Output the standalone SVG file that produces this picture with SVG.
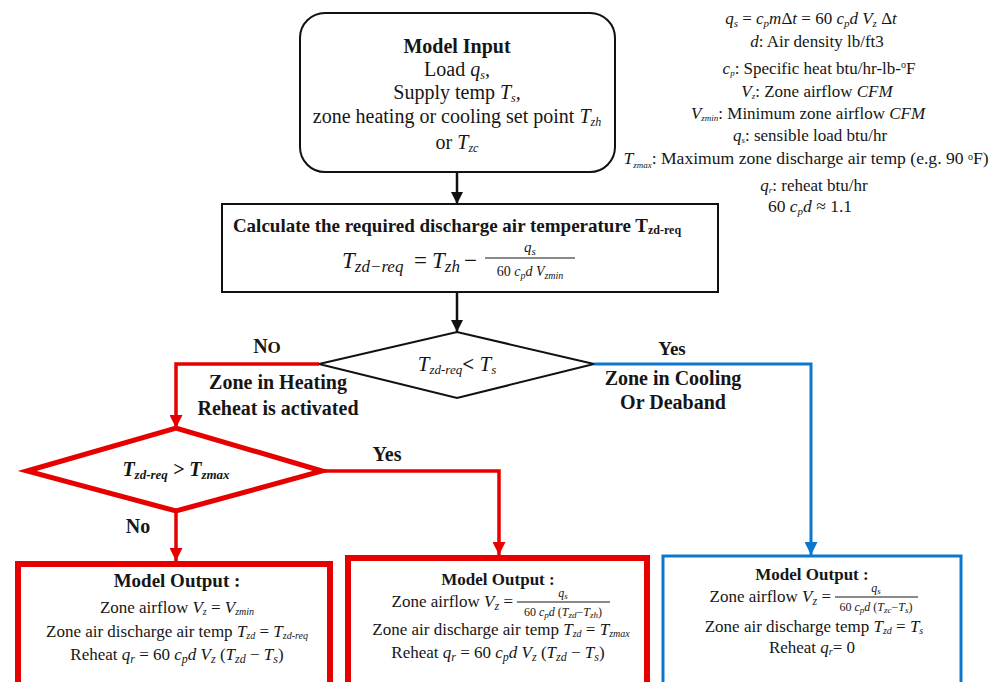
<svg xmlns="http://www.w3.org/2000/svg" width="997" height="682" viewBox="0 0 997 682">
<style>
text{font-family:"Liberation Serif","Times New Roman",serif;fill:#161616}
.b{font-weight:bold}
.i{font-style:italic}
.blk{stroke:#111;stroke-width:2;fill:#fff}
.red{stroke:#e60000;fill:#fff}
.blu{stroke:#0a78cf;fill:#fff}
.c{text-anchor:middle}
.e{text-anchor:end}
.lk{stroke:#111;stroke-width:2.5;fill:none}
.lr{stroke:#e60000;stroke-width:3.5;fill:none}
.lb{stroke:#0a78cf;stroke-width:3;fill:none}
.fr{stroke:#161616;stroke-width:1.1}
</style>
<defs>
<marker id="ak" markerUnits="userSpaceOnUse" markerWidth="12" markerHeight="12" viewBox="0 0 12 12" refX="12" refY="6" orient="auto"><path d="M0,0L12,6L0,12z" fill="#111"/></marker>
<marker id="ar" markerUnits="userSpaceOnUse" markerWidth="13" markerHeight="13" viewBox="0 0 12 12" refX="12" refY="6" orient="auto"><path d="M0,0L12,6L0,12z" fill="#e60000"/></marker>
<marker id="ab" markerUnits="userSpaceOnUse" markerWidth="13" markerHeight="13" viewBox="0 0 12 12" refX="12" refY="6" orient="auto"><path d="M0,0L12,6L0,12z" fill="#0a78cf"/></marker>
</defs>

<g id="connectors">
<path class="lk" d="M457,172V204" marker-end="url(#ak)"/>
<path class="lk" d="M457,292V332" marker-end="url(#ak)"/>
<path class="lr" d="M319,364H176V428" marker-end="url(#ar)"/>
<path class="lr" d="M322,471H499V555" marker-end="url(#ar)"/>
<path class="lr" d="M176,511V561" marker-end="url(#ar)"/>
<path class="lb" d="M594,364H811V555" marker-end="url(#ab)"/>
</g>

<g id="labels">
<text class="b c" x="267" y="353" font-size="20">N<tspan font-size="17">O</tspan></text>
<text class="b c" x="278" y="389" font-size="20">Zone in Heating</text>
<text class="b c" x="278" y="415" font-size="20">Reheat is activated</text>
<text class="b c" x="672" y="355" font-size="19">Yes</text>
<text class="b c" x="673" y="385" font-size="20">Zone in Cooling</text>
<text class="b c" x="673" y="409" font-size="20">Or Deaband</text>
<text class="b c" x="387" y="461" font-size="20">Yes</text>
<text class="b c" x="138" y="533" font-size="20">No</text>
</g>

<g id="model-input">
<rect class="blk" x="300" y="13" width="315" height="159" rx="25"/>
<text class="b c" x="457" y="53" font-size="20">Model Input</text>
<text class="c" x="457" y="76" font-size="20">Load <tspan class="i">q</tspan><tspan class="i" font-size="12" dy="3">s</tspan><tspan class="i" dy="-3">,</tspan></text>
<text class="c" x="457" y="99" font-size="20">Supply temp <tspan class="i">T</tspan><tspan class="i" font-size="12" dy="3">s</tspan><tspan class="i" dy="-3">,</tspan></text>
<text class="c" x="457" y="123" font-size="20">zone heating or cooling set point <tspan class="i">T</tspan><tspan class="i" font-size="12" dy="3">zh</tspan></text>
<text class="c" x="457" y="149" font-size="20">or <tspan class="i">T</tspan><tspan class="i" font-size="12" dy="3">zc</tspan></text>
</g>

<g id="calc">
<rect class="blk" x="222" y="204" width="496" height="88"/>
<text class="b c" x="457" y="232" font-size="19">Calculate the required discharge air temperature T<tspan font-size="12" dy="2">zd-req</tspan></text>
<text class="i" x="342" y="268" font-size="23">T<tspan font-size="17" dy="4">zd−req</tspan></text>
<text x="414" y="268" font-size="23">=</text>
<text class="i" x="432" y="268" font-size="23">T<tspan font-size="17" dy="4">zh</tspan></text>
<text x="464" y="268" font-size="23">−</text>
<line class="fr" x1="485" y1="258" x2="575" y2="258"/>
<text class="c i" x="530" y="252" font-size="15">q<tspan font-size="11" dy="3">s</tspan></text>
<text class="c" x="530" y="276" font-size="14">60 <tspan class="i">c</tspan><tspan class="i" font-size="10" dy="3">p</tspan><tspan class="i" dy="-3">d V</tspan><tspan class="i" font-size="10" dy="3">zmin</tspan></text>
</g>

<g id="decision-1">
<polygon class="blk" points="319,364 457,332 594,364 457,398"/>
<text class="c" x="457" y="371" font-size="21"><tspan class="i">T</tspan><tspan class="i" font-size="13" dy="3">zd-req</tspan><tspan class="b" dy="-3">&lt;</tspan> <tspan class="i">T</tspan><tspan class="i" font-size="13" dy="3">s</tspan></text>
</g>

<g id="decision-2">
<polygon class="red" stroke-width="5" points="27,471 176,428 322,471 176,511"/>
<text class="c b i" x="176" y="476" font-size="20">T<tspan font-size="13" dy="3">zd-req</tspan><tspan dy="-3"> &gt; </tspan>T<tspan font-size="13" dy="3">zmax</tspan></text>
</g>

<g id="notes">
<text class="c" x="811" y="24" font-size="17"><tspan class="i">q</tspan><tspan class="i" font-size="11" dy="3">s</tspan><tspan dy="-3"> = </tspan><tspan class="i">c</tspan><tspan class="i" font-size="11" dy="3">p</tspan><tspan class="i" dy="-3">m</tspan>Δ<tspan class="i">t</tspan> = 60 <tspan class="i">c</tspan><tspan class="i" font-size="11" dy="3">p</tspan><tspan class="i" dy="-3">d V</tspan><tspan class="i" font-size="11" dy="3">z</tspan><tspan dy="-3"> Δ</tspan><tspan class="i">t</tspan></text>
<text class="c" x="817" y="47" font-size="17"><tspan class="i">d</tspan>: Air density lb/ft3</text>
<text class="c" x="819" y="74" font-size="17"><tspan class="i">c</tspan><tspan class="i" font-size="9" dy="2">p</tspan><tspan dy="-2">: Specific heat btu/hr-lb-</tspan><tspan font-size="10" dy="-6">o</tspan><tspan dy="6">F</tspan></text>
<text class="c" x="817" y="97" font-size="17"><tspan class="i">V</tspan><tspan class="i" font-size="9" dy="2">z</tspan><tspan dy="-2">:  Zone airflow </tspan><tspan class="i">CFM</tspan></text>
<text class="c" x="808" y="119" font-size="17"><tspan class="i">V</tspan><tspan class="i" font-size="9" dy="2">zmin</tspan><tspan dy="-2">: Minimum zone airflow </tspan><tspan class="i">CFM</tspan></text>
<text class="c" x="810" y="141" font-size="17"><tspan class="i">q</tspan><tspan class="i" font-size="9" dy="2">s</tspan><tspan dy="-2">: sensible load btu/hr</tspan></text>
<text class="c" x="806" y="164" font-size="17.6"><tspan class="i">T</tspan><tspan class="i" font-size="9" dy="4">zmax</tspan><tspan dy="-4">: Maximum zone discharge air temp (e.g. 90 </tspan><tspan font-size="10" dy="-4">o</tspan><tspan dy="4">F)</tspan></text>
<text class="c" x="814" y="191" font-size="17"><tspan class="i">q</tspan><tspan class="i" font-size="9" dy="2">r</tspan><tspan dy="-2">: reheat btu/hr</tspan></text>
<text class="c" x="810" y="212" font-size="17.5">60 <tspan class="i">c</tspan><tspan class="i" font-size="11" dy="3">p</tspan><tspan class="i" dy="-3">d</tspan> ≈ 1.1</text>
</g>

<g id="output-1">
<rect class="red" stroke-width="6" x="18" y="564" width="312" height="140"/>
<text class="b c" x="177" y="587" font-size="19">Model Output :</text>
<text class="c" x="177" y="613" font-size="17">Zone airflow <tspan class="i">V</tspan><tspan class="i" font-size="10" dy="2">z</tspan><tspan dy="-2"> = </tspan><tspan class="i">V</tspan><tspan class="i" font-size="10" dy="2">zmin</tspan></text>
<text class="c" x="177" y="637" font-size="17">Zone air discharge air temp <tspan class="i">T</tspan><tspan class="i" font-size="10" dy="2">zd</tspan><tspan dy="-2"> = </tspan><tspan class="i">T</tspan><tspan class="i" font-size="10" dy="2">zd-req</tspan></text>
<text class="c" x="177" y="660" font-size="17">Reheat <tspan class="i">q</tspan><tspan class="i" font-size="12" dy="3">r</tspan><tspan dy="-3"> = 60 </tspan><tspan class="i">c</tspan><tspan class="i" font-size="12" dy="3">p</tspan><tspan class="i" dy="-3">d V</tspan><tspan class="i" font-size="12" dy="3">z</tspan><tspan dy="-3"> (</tspan><tspan class="i">T</tspan><tspan class="i" font-size="12" dy="3">zd</tspan><tspan dy="-3"> − </tspan><tspan class="i">T</tspan><tspan class="i" font-size="12" dy="3">s</tspan><tspan dy="-3">)</tspan></text>
</g>

<g id="output-2">
<rect class="red" stroke-width="6" x="348" y="558" width="299" height="140"/>
<text class="b c" x="498" y="585" font-size="17">Model Output :</text>
<text class="e" x="513" y="607" font-size="17">Zone airflow <tspan class="i">V</tspan><tspan class="i" font-size="12" dy="3">z</tspan><tspan dy="-3"> =</tspan></text>
<line class="fr" x1="517" y1="602" x2="610" y2="602"/>
<text class="c i" x="563" y="597" font-size="12">q<tspan font-size="9" dy="2">s</tspan></text>
<text class="c" x="563" y="616" font-size="12">60 <tspan class="i">c</tspan><tspan class="i" font-size="9" dy="2">p</tspan><tspan class="i" dy="-2">d</tspan> (<tspan class="i">T</tspan><tspan class="i" font-size="9" dy="2">zd</tspan><tspan dy="-2">−</tspan><tspan class="i">T</tspan><tspan class="i" font-size="9" dy="2">zh</tspan><tspan dy="-2">)</tspan></text>
<text class="c" x="501" y="635" font-size="17">Zone air discharge air temp <tspan class="i">T</tspan><tspan class="i" font-size="10" dy="2">zd</tspan><tspan dy="-2"> = </tspan><tspan class="i">T</tspan><tspan class="i" font-size="10" dy="2">zmax</tspan></text>
<text class="c" x="498" y="658" font-size="17">Reheat <tspan class="i">q</tspan><tspan class="i" font-size="12" dy="3">r</tspan><tspan dy="-3"> = 60 </tspan><tspan class="i">c</tspan><tspan class="i" font-size="12" dy="3">p</tspan><tspan class="i" dy="-3">d V</tspan><tspan class="i" font-size="12" dy="3">z</tspan><tspan dy="-3"> (</tspan><tspan class="i">T</tspan><tspan class="i" font-size="12" dy="3">zd</tspan><tspan dy="-3"> − </tspan><tspan class="i">T</tspan><tspan class="i" font-size="12" dy="3">s</tspan><tspan dy="-3">)</tspan></text>
</g>

<g id="output-3">
<rect class="blu" stroke-width="3" x="663" y="556" width="298" height="140"/>
<text class="b c" x="812" y="580" font-size="17">Model Output :</text>
<text class="e" x="831" y="602" font-size="17">Zone airflow <tspan class="i">V</tspan><tspan class="i" font-size="12" dy="3">z</tspan><tspan dy="-3"> =</tspan></text>
<line class="fr" x1="835" y1="597" x2="918" y2="597"/>
<text class="c i" x="876" y="592" font-size="12">q<tspan font-size="9" dy="2">s</tspan></text>
<text class="c" x="876" y="611" font-size="12">60 <tspan class="i">c</tspan><tspan class="i" font-size="9" dy="2">p</tspan><tspan class="i" dy="-2">d</tspan> (<tspan class="i">T</tspan><tspan class="i" font-size="9" dy="2">zc</tspan><tspan dy="-2">−</tspan><tspan class="i">T</tspan><tspan class="i" font-size="9" dy="2">s</tspan><tspan dy="-2">)</tspan></text>
<text class="c" x="814" y="632" font-size="17">Zone air discharge temp <tspan class="i">T</tspan><tspan class="i" font-size="10" dy="2">zd</tspan><tspan dy="-2"> = </tspan><tspan class="i">T</tspan><tspan class="i" font-size="10" dy="2">s</tspan></text>
<text class="c" x="812" y="653" font-size="17">Reheat <tspan class="i">q</tspan><tspan class="i" font-size="10" dy="2">r</tspan><tspan dy="-2">= 0</tspan></text>
</g>
</svg>
